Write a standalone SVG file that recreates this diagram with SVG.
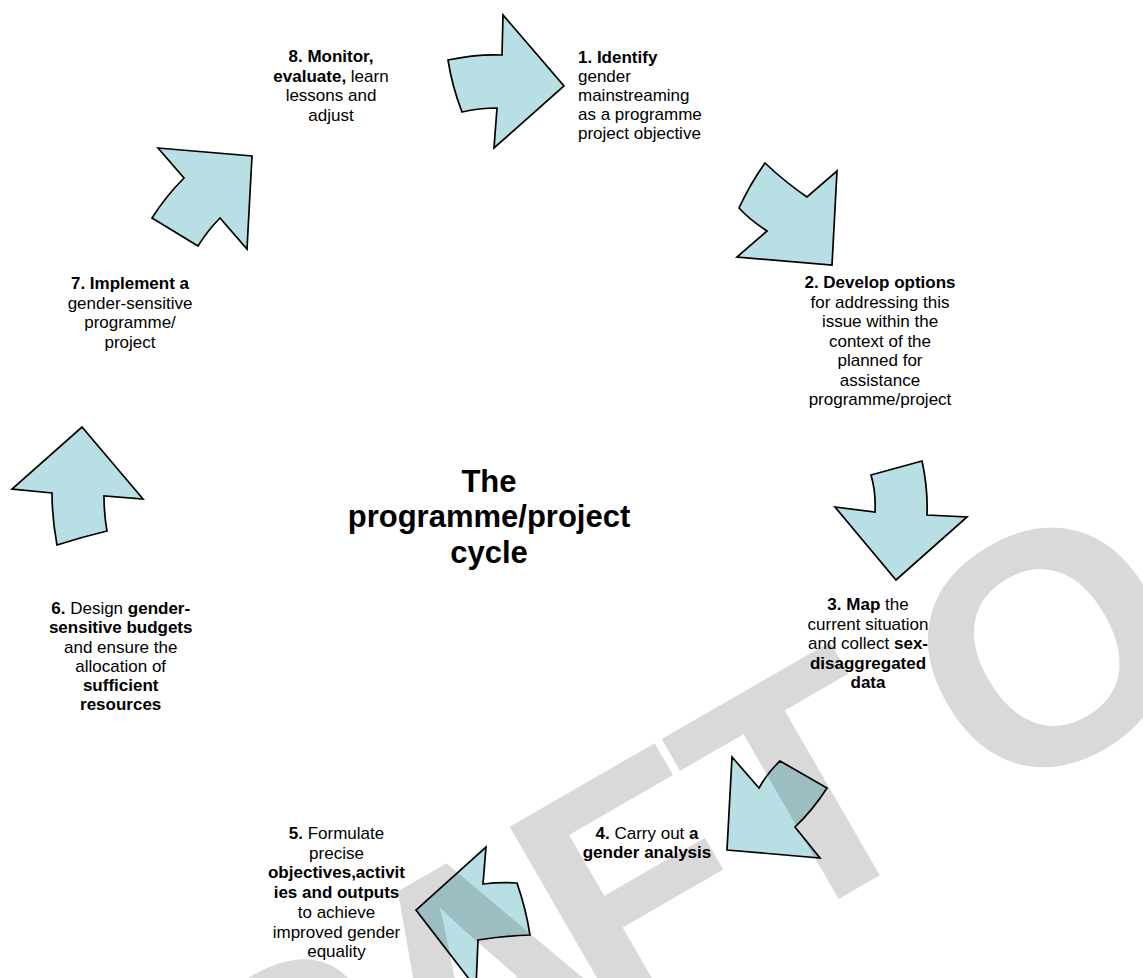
<svg xmlns="http://www.w3.org/2000/svg" width="1143" height="978" viewBox="0 0 1143 978">
  <style>
    .arr { fill: #b8dfe3; stroke: #000; stroke-width: 1.7; stroke-linejoin: miter; }
    .lbl { font-family: "Liberation Sans", Arial, sans-serif; font-size: 17px; fill: #000; }
    .mid { text-anchor: middle; }
    .b { font-weight: bold; }
    .title { font-family: "Liberation Sans", Arial, sans-serif; font-size: 31px; font-weight: bold; fill: #000; text-anchor: middle; }
    .wm { font-family: "Liberation Sans", Arial, sans-serif; font-size: 330px; font-weight: bold; fill: #000; fill-opacity: 0.15; }
  </style>

  <rect width="1143" height="978" fill="#fff"/>

  <!-- cycle arrows -->
  <g id="connectors">
    <path id="arrow-8-1" class="arr" d="M448,60 Q476,54 502,55 L503,15 L564,86 L494,148 L497,108 Q479,108 462,112 Q452,86 448,60 Z"/>
    <path id="arrow-1-2" class="arr" d="M765,163 Q785,182 807,197 L837,171 L832,265 L737,257 L767,231 Q750,220 739,208 Q750,184 765,163 Z"/>
    <path id="arrow-2-3" class="arr" d="M871,475 L922,461 Q928,488 927,515 L967,517 L896,580 L835,507 L875,512 Q876,492 871,475 Z"/>
    <path id="arrow-3-4" class="arr" d="M732,757 L759,788 Q768,772 780,761 L827,788 Q813,810 795,827 L820,858 L727,850 Z"/>
    <path id="arrow-4-5" class="arr" d="M486,847 L483,884 Q500,882 517,883 Q526,909 530,935 Q503,936 478,940 L476,988 L416,910 Z"/>
    <path id="arrow-5-6" class="arr" d="M82,427 L143,499 L104,496 Q104,514 107,531 Q82,537 57,545 Q52,518 52,493 L12,489 Z"/>
    <path id="arrow-6-7" class="arr" d="M158,148 L252,156 L247,249 L220,218 Q208,230 198,246 L152,218 Q166,196 184,178 Z"/>
  </g>

  <!-- centre title -->
  <g id="title">
    <text class="title" x="489" y="491.5">The</text>
    <text class="title" x="489" y="527">programme/project</text>
    <text class="title" x="489" y="562.5">cycle</text>
  </g>

  <g id="step1">
    <text class="lbl" x="578" y="63"><tspan class="b">1. Identify</tspan></text>
    <text class="lbl" x="578" y="82">gender</text>
    <text class="lbl" x="578" y="101">mainstreaming</text>
    <text class="lbl" x="578" y="120">as a programme</text>
    <text class="lbl" x="578" y="139">project objective</text>
  </g>

  <g id="step2">
    <text class="lbl mid" x="880" y="288"><tspan class="b">2. Develop options</tspan></text>
    <text class="lbl mid" x="880" y="307.5">for addressing this</text>
    <text class="lbl mid" x="880" y="327">issue within the</text>
    <text class="lbl mid" x="880" y="346.5">context of the</text>
    <text class="lbl mid" x="880" y="366">planned for</text>
    <text class="lbl mid" x="880" y="385.5">assistance</text>
    <text class="lbl mid" x="880" y="405">programme/project</text>
  </g>

  <g id="step3">
    <text class="lbl mid" x="868" y="610"><tspan class="b">3. Map</tspan> the</text>
    <text class="lbl mid" x="868" y="629.5">current situation</text>
    <text class="lbl mid" x="868" y="649">and collect <tspan class="b">sex-</tspan></text>
    <text class="lbl mid" x="868" y="668.5"><tspan class="b">disaggregated</tspan></text>
    <text class="lbl mid" x="868" y="688"><tspan class="b">data</tspan></text>
  </g>

  <g id="step4">
    <text class="lbl mid" x="647" y="839"><tspan class="b">4.</tspan> Carry out <tspan class="b">a</tspan></text>
    <text class="lbl mid" x="647" y="858"><tspan class="b">gender analysis</tspan></text>
  </g>

  <g id="step5">
    <text class="lbl mid" x="336.5" y="839"><tspan class="b">5.</tspan> Formulate</text>
    <text class="lbl mid" x="336.5" y="858.7">precise</text>
    <text class="lbl mid" x="336.5" y="878.4"><tspan class="b">objectives,activit</tspan></text>
    <text class="lbl mid" x="336.5" y="898.1"><tspan class="b">ies and outputs</tspan></text>
    <text class="lbl mid" x="336.5" y="917.8">to achieve</text>
    <text class="lbl mid" x="336.5" y="937.5">improved gender</text>
    <text class="lbl mid" x="336.5" y="957.2">equality</text>
  </g>

  <g id="step6">
    <text class="lbl mid" x="120.7" y="614"><tspan class="b">6.</tspan> Design <tspan class="b">gender-</tspan></text>
    <text class="lbl mid" x="120.7" y="633.3"><tspan class="b">sensitive budgets</tspan></text>
    <text class="lbl mid" x="120.7" y="652.5">and ensure the</text>
    <text class="lbl mid" x="120.7" y="671.7">allocation of</text>
    <text class="lbl mid" x="120.7" y="691"><tspan class="b">sufficient</tspan></text>
    <text class="lbl mid" x="120.7" y="710.2"><tspan class="b">resources</tspan></text>
  </g>

  <g id="step7">
    <text class="lbl mid" x="130" y="289"><tspan class="b">7. Implement a</tspan></text>
    <text class="lbl mid" x="130" y="308.5">gender-sensitive</text>
    <text class="lbl mid" x="130" y="328">programme/</text>
    <text class="lbl mid" x="130" y="347.5">project</text>
  </g>

  <g id="step8">
    <text class="lbl mid" x="331" y="62"><tspan class="b">8. Monitor,</tspan></text>
    <text class="lbl mid" x="331" y="81.5"><tspan class="b">evaluate,</tspan> learn</text>
    <text class="lbl mid" x="331" y="101">lessons and</text>
    <text class="lbl mid" x="331" y="120.5">adjust</text>
  </g>

  <!-- diagonal watermark, tightly spaced and translucent so shapes beneath darken -->
  <g id="watermark" transform="translate(766,941) rotate(-30)">
    <text class="wm" x="-813 -599 -385 -187 6.9 200 262" y="0">DRAFT O</text>
  </g>
</svg>
